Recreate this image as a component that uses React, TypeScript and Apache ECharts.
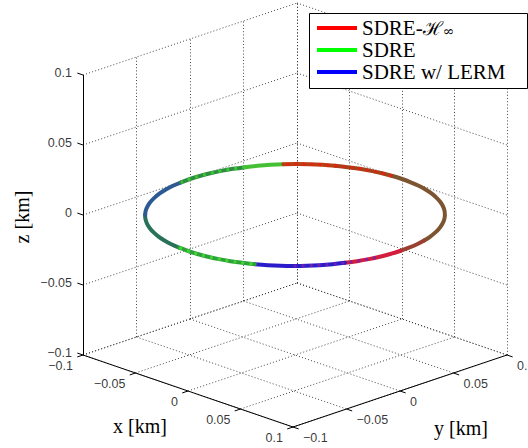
import React, { useEffect, useRef } from "react";
import * as echarts from "echarts";

// ---- axis ticks (km) ----
const X_TICKS = [-0.1, -0.05, 0, 0.05, 0.1];
const Y_TICKS = [-0.1, -0.05, 0, 0.05, 0.1];
const Z_TICKS = [-0.1, -0.05, 0, 0.05, 0.1];
const TICK_TEXT = ["\u22120.1", "\u22120.05", "0", "0.05", "0.1"];

// ---- legend ----
const SERIES_NAMES = ["SDRE-\u210B\u221E", "SDRE", "SDRE w/ LERM"];

// ---- trajectory samples (km), every 5 degrees around the orbit ----
const trajX = [
  0.1, 0.0996, 0.0985, 0.0966, 0.094, 0.0906, 0.0866, 0.0819, 0.0766, 0.0707, 0.0643, 0.0574, 0.05, 0.0423, 0.0342, 0.0259, 0.0174, 0.0087, 0,
  -0.0087, -0.0174, -0.0259, -0.0342, -0.0423, -0.05, -0.0574, -0.0643, -0.0707, -0.0766, -0.0819, -0.0866, -0.0906, -0.094, -0.0966, -0.0985, -0.0996, -0.1,
  -0.0996, -0.0985, -0.0966, -0.094, -0.0906, -0.0866, -0.0819, -0.0766, -0.0707, -0.0643, -0.0574, -0.05, -0.0423, -0.0342, -0.0259, -0.0174, -0.0087, 0,
  0.0087, 0.0174, 0.0259, 0.0342, 0.0423, 0.05, 0.0574, 0.0643, 0.0707, 0.0766, 0.0819, 0.0866, 0.0906, 0.094, 0.0966, 0.0985, 0.0996,
];
const trajY = [
  0, 0.0087, 0.0174, 0.0259, 0.0342, 0.0423, 0.05, 0.0574, 0.0643, 0.0707, 0.0766, 0.0819, 0.0866, 0.0906, 0.094, 0.0966, 0.0985, 0.0996, 0.1,
  0.0996, 0.0985, 0.0966, 0.094, 0.0906, 0.0866, 0.0819, 0.0766, 0.0707, 0.0643, 0.0574, 0.05, 0.0423, 0.0342, 0.0259, 0.0174, 0.0087, 0,
  -0.0087, -0.0174, -0.0259, -0.0342, -0.0423, -0.05, -0.0574, -0.0643, -0.0707, -0.0766, -0.0819, -0.0866, -0.0906, -0.094, -0.0966, -0.0985, -0.0996, -0.1,
  -0.0996, -0.0985, -0.0966, -0.094, -0.0906, -0.0866, -0.0819, -0.0766, -0.0707, -0.0643, -0.0574, -0.05, -0.0423, -0.0342, -0.0259, -0.0174, -0.0087,
];
const trajZ = [
  0, 0, 0, 0, 0, 0, 0, 0, 0, 0, 0, 0, 0, 0, 0, 0, 0, 0, 0, 0, 0, 0, 0, 0,
  0, 0, 0, 0, 0, 0, 0, 0, 0, 0, 0, 0, 0, 0, 0, 0, 0, 0, 0, 0, 0, 0, 0, 0,
  0, 0, 0, 0, 0, 0, 0, 0, 0, 0, 0, 0, 0, 0, 0, 0, 0, 0, 0, 0, 0, 0, 0, 0,
];

// visible stretches of the overlapping trajectories (sample index ranges)
const segFrom = [45, 37, 31, 28, 24, 19, 3, 0, 67, 60, 53];
const segTo = [53, 45, 37, 31, 28, 24, 19, 3, 0, 67, 60];
const segOwner = [1, 2, 1, 1, 0, 0, 0, 0, 0, 2, 1];
// stretches where a second trajectory shows through in flecks
const fleckFrom = [53, 31, 19, 63];
const fleckTo = [60, 37, 28, 70];
const fleckOwner = [1, 1, 0, 2];

// ---- styles ----
const LEGEND_COLORS = ["#ff0000", "#00ff00", "#0000ff"];
const SEG_COLORS = [
  "#287258", "#2c5a92", "#2f8d42", "#45c035", "#b84018", "#a3421f",
  "#7c5430", "#9a4030", "#d21e3c", "#2a1cc8", "#2fa03a",
];
const FLECK_COLORS = ["#40e030", "#3cd22e", "#ee1c08", "#7a20b0"];

const XMIN = -0.1, XMAX = 0.1, YMIN = -0.1, YMAX = 0.1, ZMIN = -0.1, ZMAX = 0.1;
// projection of the unit box onto the screen plane (view az/el)
const ORIGIN = [83, 355];
const AX = [210, 72];
const AY = [214, -72];
const AZ = [0, -280];

function proj(x: number, y: number, z: number): [number, number] {
  const u = (x - XMIN) / (XMAX - XMIN);
  const v = (y - YMIN) / (YMAX - YMIN);
  const w = (z - ZMIN) / (ZMAX - ZMIN);
  return [
    ORIGIN[0] + u * AX[0] + v * AY[0] + w * AZ[0],
    ORIGIN[1] + u * AX[1] + v * AY[1] + w * AZ[1],
  ];
}

function stretch(from: number, to: number): [number, number][] {
  const pts: [number, number][] = [];
  let i = from;
  for (;;) {
    pts.push(proj(trajX[i], trajY[i], trajZ[i]));
    if (i === to) break;
    i = (i + 1) % trajX.length;
  }
  return pts;
}

export default function App() {
  const ref = useRef<HTMLDivElement>(null);
  useEffect(() => {
    if (!ref.current) return;
    const chart = echarts.init(ref.current, null, { renderer: "svg" });

    const gridLines: any[] = [];
    const seg = (a: [number, number, number], b: [number, number, number]) =>
      gridLines.push({ coords: [proj(...a), proj(...b)] });
    X_TICKS.forEach((t) => seg([t, YMIN, ZMIN], [t, YMAX, ZMIN]));
    Y_TICKS.forEach((t) => seg([XMIN, t, ZMIN], [XMAX, t, ZMIN]));
    Y_TICKS.forEach((t) => seg([XMIN, t, ZMIN], [XMIN, t, ZMAX]));
    Z_TICKS.forEach((t) => seg([XMIN, YMIN, t], [XMIN, YMAX, t]));
    X_TICKS.forEach((t) => seg([t, YMAX, ZMIN], [t, YMAX, ZMAX]));
    Z_TICKS.forEach((t) => seg([XMIN, YMAX, t], [XMAX, YMAX, t]));

    const axisLines: any[] = [];
    const aseg = (a: [number, number, number], b: [number, number, number]) =>
      axisLines.push({ coords: [proj(...a), proj(...b)] });
    aseg([XMIN, YMIN, ZMIN], [XMIN, YMIN, ZMAX]);
    aseg([XMIN, YMIN, ZMIN], [XMAX, YMIN, ZMIN]);
    aseg([XMAX, YMIN, ZMIN], [XMAX, YMAX, ZMIN]);
    const TL = 0.0054;
    Z_TICKS.forEach((t) => aseg([XMIN, YMIN, t], [XMIN - TL, YMIN, t]));
    X_TICKS.forEach((t) => aseg([t, YMIN, ZMIN], [t, YMIN - TL, ZMIN]));
    Y_TICKS.forEach((t) => aseg([XMAX, t, ZMIN], [XMAX + TL, t, ZMIN]));

    const sans = "Liberation Sans";

    const tickSeries = (data: any[], position: number[], align: string) => ({
      type: "scatter",
      silent: true,
      symbolSize: 0,
      z: 5,
      data,
      label: {
        show: true,
        formatter: "{b}",
        position,
        align,
        verticalAlign: "middle",
        fontFamily: sans,
        fontSize: 12.5,
        lineHeight: 12,
        color: "#000",
      },
    });

    const zLabels = Z_TICKS.map((t, i) => ({ name: TICK_TEXT[i], value: proj(XMIN, YMIN, t) }));
    const xLabels = X_TICKS.map((t, i) => ({ name: TICK_TEXT[i], value: proj(t, YMIN, ZMIN) }));
    const yLabels = Y_TICKS.map((t, i) => ({ name: TICK_TEXT[i], value: proj(XMAX, t, ZMIN) }));

    const segSeries = segFrom.map((from, k) => ({
      type: "line",
      name: SERIES_NAMES[segOwner[k]],
      data: stretch(from, segTo[k]),
      smooth: 0.4,
      showSymbol: false,
      symbol: "none",
      silent: true,
      z: 4,
      lineStyle: { color: SEG_COLORS[k], width: 4, cap: "round" },
      itemStyle: { color: LEGEND_COLORS[segOwner[k]] },
    }));

    const fleckSeries = fleckFrom.map((from, k) => ({
      type: "line",
      name: SERIES_NAMES[fleckOwner[k]],
      data: stretch(from, fleckTo[k]),
      smooth: 0.4,
      showSymbol: false,
      symbol: "none",
      silent: true,
      z: 5,
      lineStyle: { color: FLECK_COLORS[k], width: 3, type: [3, 5], opacity: 0.85 },
      itemStyle: { color: LEGEND_COLORS[fleckOwner[k]] },
    }));

    const legendRows = SERIES_NAMES.map((name, i) => {
      const y = 28 + i * 22;
      return [
        {
          type: "line",
          shape: { x1: 317, y1: y, x2: 357, y2: y },
          style: { stroke: LEGEND_COLORS[i], lineWidth: 4 },
          z: 101,
        },
        {
          type: "text",
          x: 362,
          y,
          z: 101,
          style:
            i === 0
              ? {
                  text: "{n|SDRE-}{h|\u210B}{s|\u221E}",
                  verticalAlign: "middle",
                  fill: "#000",
                  rich: {
                    n: { font: "21px 'Liberation Serif'", lineHeight: 20, fill: "#000", verticalAlign: "middle" },
                    h: { font: "19px 'DejaVu Serif'", lineHeight: 20, fill: "#000", verticalAlign: "middle" },
                    s: { font: "14px 'DejaVu Serif'", lineHeight: 12, fill: "#000", verticalAlign: "bottom" },
                  },
                }
              : {
                  text: name,
                  font: "21px 'Liberation Serif'",
                  lineHeight: 20,
                  fill: "#000",
                  verticalAlign: "middle",
                },
        },
      ];
    }).flat();

    chart.setOption({
      animation: false,
      backgroundColor: "#ffffff",
      grid: { left: 0, top: 0, width: 528, height: 448 },
      xAxis: { type: "value", min: 0, max: 528, show: false },
      yAxis: { type: "value", min: 0, max: 448, inverse: true, show: false },
      series: [
        {
          type: "lines",
          coordinateSystem: "cartesian2d",
          silent: true,
          z: 1,
          data: gridLines,
          lineStyle: { color: "#333", width: 1, type: [1, 2.2], opacity: 0.9 },
        },
        {
          type: "lines",
          coordinateSystem: "cartesian2d",
          silent: true,
          z: 2,
          data: axisLines,
          lineStyle: { color: "#000", width: 1, type: "solid", opacity: 1 },
        },
        ...segSeries,
        ...fleckSeries,
        tickSeries(zLabels, [-11, -2], "right"),
        tickSeries(xLabels, [-10, 11], "right"),
        tickSeries(yLabels, [10, 11], "left"),
      ],
      graphic: [
        {
          type: "text",
          x: 140,
          y: 426,
          style: { text: "x [km]", font: "20px 'Liberation Serif'", fill: "#000", align: "center", verticalAlign: "middle" },
        },
        {
          type: "text",
          x: 461,
          y: 428,
          style: { text: "y [km]", font: "20px 'Liberation Serif'", fill: "#000", align: "center", verticalAlign: "middle" },
        },
        {
          type: "text",
          x: 22,
          y: 217,
          rotation: Math.PI / 2,
          style: { text: "z [km]", font: "20px 'Liberation Serif'", fill: "#000", align: "center", verticalAlign: "middle" },
        },
        {
          type: "rect",
          z: 100,
          shape: { x: 309.5, y: 13.5, width: 218, height: 75 },
          style: { fill: "#fff", stroke: "#000", lineWidth: 1 },
        },
        ...legendRows,
      ],
    });
    return () => chart.dispose();
  }, []);
  return (
    <div
      ref={ref}
      style={{ position: "fixed", left: 0, top: 0, width: 528, height: 448, background: "#fff" }}
    />
  );
}
